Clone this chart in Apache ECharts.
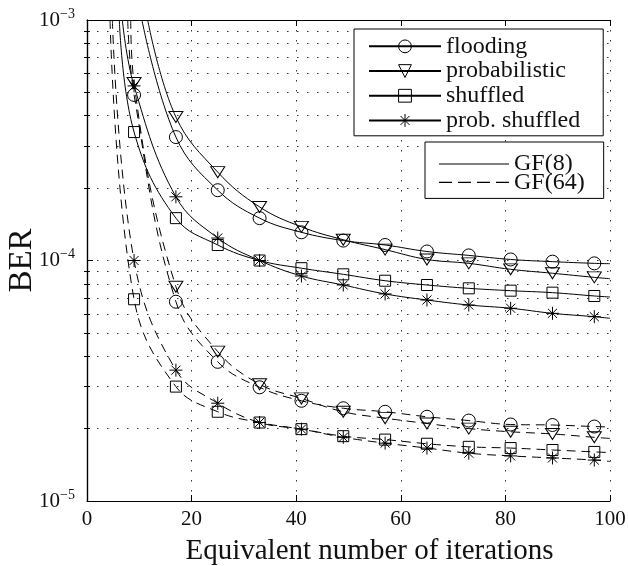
<!DOCTYPE html>
<html>
<head>
<meta charset="utf-8">
<script src="https://cdn.jsdelivr.net/npm/echarts@6/dist/echarts.min.js"></script>
<style>
html, body { margin: 0; padding: 0; background: #fff; }
#main { width: 628px; height: 566px; }
</style>
</head>
<body>
<div id="main"></div>
<script>
// iterations where the markers sit
var iters = [9, 17, 25, 33, 41, 49, 57, 65, 73, 81, 89, 97];

// GF(8), solid lines (null = above the plotted range)
var flood8 = [null, 3.26e-4, 1.96e-4, 1.50e-4, 1.31e-4, 1.21e-4, 1.16e-4, 1.09e-4, 1.05e-4, 1.01e-4, 9.89e-5, 9.73e-5];
var prob8 = [null, 3.95e-4, 2.33e-4, 1.67e-4, 1.38e-4, 1.22e-4, 1.11e-4, 1.01e-4, 9.73e-5, 9.19e-5, 8.85e-5, 8.51e-5];
var shuf8 = [3.42e-4, 1.50e-4, 1.16e-4, 1.00e-4, 9.29e-5, 8.76e-5, 8.24e-5, 7.91e-5, 7.66e-5, 7.49e-5, 7.35e-5, 7.12e-5];
var pshuf8 = [5.32e-4, 1.84e-4, 1.24e-4, 1.00e-4, 8.62e-5, 7.91e-5, 7.26e-5, 6.85e-5, 6.53e-5, 6.33e-5, 6.03e-5, 5.84e-5];

// GF(64), dashed lines
var flood64 = [4.88e-4, 6.74e-5, 3.79e-5, 2.97e-5, 2.61e-5, 2.43e-5, 2.35e-5, 2.24e-5, 2.16e-5, 2.08e-5, 2.07e-5, 2.04e-5];
var prob64 = [5.47e-4, 7.78e-5, 4.18e-5, 3.06e-5, 2.67e-5, 2.35e-5, 2.21e-5, 2.10e-5, 2.00e-5, 1.94e-5, 1.90e-5, 1.84e-5];
var shuf64 = [6.90e-5, 2.99e-5, 2.35e-5, 2.12e-5, 1.99e-5, 1.86e-5, 1.80e-5, 1.73e-5, 1.68e-5, 1.66e-5, 1.63e-5, 1.60e-5];
var pshuf64 = [1.00e-4, 3.50e-5, 2.55e-5, 2.12e-5, 1.99e-5, 1.84e-5, 1.74e-5, 1.66e-5, 1.58e-5, 1.54e-5, 1.51e-5, 1.48e-5];

// extra points (no marker): where they leave the top, and the right edge
var flood8Line = [[10.5, 1e-3], [100, 9.7e-5]];
var prob8Line = [[11.6, 1e-3], [100, 8.4e-5]];
var shuf8Line = [[6.18, 1e-3], [100, 7.05e-5]];
var pshuf8Line = [[6.75, 1e-3], [100, 5.75e-5]];
var flood64Line = [[7.78, 1e-3], [100, 2.03e-5]];
var prob64Line = [[8.36, 1e-3], [100, 1.82e-5]];
var shuf64Line = [[4.4, 1e-3], [100, 1.59e-5]];
var pshuf64Line = [[4.85, 1e-3], [100, 1.46e-5]];

var yMinor = [2e-5, 3e-5, 4e-5, 5e-5, 6e-5, 7e-5, 8e-5, 9e-5, 2e-4, 3e-4, 4e-4, 5e-4, 6e-4, 7e-4, 8e-4, 9e-4];

var font = 'Liberation Serif';
var dotted = { color: '#333', width: 1, type: [1.5, 8.5] };

var markers = {
    circle: { symbol: 'circle', size: 13 },
    tri: { symbol: 'path://M0,0L2,0L1,1.6Z', size: [14, 11] },
    square: { symbol: 'rect', size: 11 },
    star: { symbol: 'path://M1,0L1,2M0,1L2,1M0.3,0.3L1.7,1.7M0.3,1.7L1.7,0.3', size: 13 }
};

function curve(name, marks, extra, mk, dashed) {
    var data = [];
    extra.forEach(function (p) { data.push({ value: p, symbol: 'none' }); });
    iters.forEach(function (x, i) {
        if (marks[i] != null) data.push({ value: [x, marks[i]] });
    });
    data.sort(function (a, b) { return a.value[0] - b.value[0]; });
    return {
        type: 'line',
        name: name,
        data: data,
        smooth: 0.4,
        symbol: mk.symbol,
        symbolSize: mk.size,
        showSymbol: true,
        lineStyle: { color: '#000', width: 1, type: dashed ? [9, 6] : 'solid' },
        itemStyle: { color: 'rgba(0,0,0,0)', borderColor: '#000', borderWidth: 1 },
        emphasis: { disabled: true },
        z: 3
    };
}

function sup(v) {
    var e = Math.round(Math.log10(v));
    return '10{sup|' + (e < 0 ? '\u2212' : '') + Math.abs(e) + '}';
}

var series = [
    curve('flooding', flood8, flood8Line, markers.circle, false),
    curve('probabilistic', prob8, prob8Line, markers.tri, false),
    curve('shuffled', shuf8, shuf8Line, markers.square, false),
    curve('prob. shuffled', pshuf8, pshuf8Line, markers.star, false),
    curve('flooding GF64', flood64, flood64Line, markers.circle, true),
    curve('probabilistic GF64', prob64, prob64Line, markers.tri, true),
    curve('shuffled GF64', shuf64, shuf64Line, markers.square, true),
    curve('prob. shuffled GF64', pshuf64, pshuf64Line, markers.star, true),
    { type: 'line', name: 'GF(8)', data: [], itemStyle: { color: '#000' } },
    { type: 'line', name: 'GF(64)', data: [], itemStyle: { color: '#000' } }
];

var chart = echarts.init(document.getElementById('main'), null, { renderer: 'canvas' });
chart.setOption({
    backgroundColor: '#fff',
    animation: false,
    grid: { left: 87, right: 18, top: 20, bottom: 65, containLabel: false, outerBoundsMode: 'none' },
    legend: [{
        data: ['flooding', 'probabilistic', 'shuffled', 'prob. shuffled'],
        orient: 'vertical',
        left: 354,
        top: 29,
        itemWidth: 72,
        itemHeight: 16,
        itemGap: 0,
        padding: [5, 23, 3, 14],
        selectedMode: false,
        backgroundColor: '#fff',
        borderColor: '#000',
        borderWidth: 1,
        borderRadius: 0,
        itemStyle: { color: 'rgba(0,0,0,0)', borderColor: '#000', borderWidth: 1 },
        textStyle: { fontFamily: font, fontSize: 24, color: '#111', lineHeight: 24.7 }
    }, {
        data: [
            { name: 'GF(8)', icon: 'path://M0,0H70V1.2H0Z' },
            { name: 'GF(64)', icon: 'path://M0,0H13V1.2H0ZM19,0H32V1.2H19ZM38,0H51V1.2H38ZM57,0H70V1.2H57Z' }
        ],
        orient: 'vertical',
        left: 425,
        top: 142,
        itemWidth: 70,
        itemHeight: 10,
        itemGap: -5.6,
        padding: [10, 19, 4, 14],
        selectedMode: false,
        backgroundColor: '#fff',
        borderColor: '#000',
        borderWidth: 1,
        borderRadius: 0,
        itemStyle: { color: '#000', borderWidth: 0 },
        textStyle: { fontFamily: font, fontSize: 24, color: '#111' }
    }],
    xAxis: [{
        type: 'value',
        min: 0,
        max: 100,
        interval: 20,
        position: 'bottom',
        name: 'Equivalent number of iterations',
        nameLocation: 'middle',
        nameGap: 36,
        nameMoveOverlap: false,
        nameTextStyle: { fontFamily: font, fontSize: 29, color: '#111', padding: [0, 0, 0, 42] },
        axisLine: { lineStyle: { color: '#000', width: 1.2 } },
        axisTick: { inside: true, length: 6, lineStyle: { color: '#000' } },
        axisLabel: { margin: 8, fontFamily: font, fontSize: 21, color: '#111' },
        splitLine: { show: true, lineStyle: dotted }
    }, {
        type: 'value',
        min: 0,
        max: 100,
        interval: 20,
        position: 'top',
        axisLine: { lineStyle: { color: '#000', width: 1.2 } },
        axisTick: { inside: true, length: 6, lineStyle: { color: '#000' } },
        axisLabel: { show: false },
        splitLine: { show: false }
    }],
    yAxis: [{
        type: 'log',
        logBase: 10,
        min: 1e-5,
        max: 1e-3,
        position: 'left',
        name: 'BER',
        nameLocation: 'middle',
        nameGap: 48,
        nameMoveOverlap: false,
        nameTextStyle: { fontFamily: font, fontSize: 33, color: '#111' },
        axisLine: { lineStyle: { color: '#000', width: 1.2 } },
        axisTick: { inside: true, length: 6, lineStyle: { color: '#000' } },
        axisLabel: {
            margin: 12,
            fontFamily: font,
            fontSize: 21,
            color: '#111',
            lineHeight: 26,
            formatter: sup,
            rich: { sup: { fontFamily: font, fontSize: 14, lineHeight: 14, verticalAlign: 'top', color: '#111' } }
        },
        splitLine: { show: true, lineStyle: dotted }
    }, {
        type: 'log',
        logBase: 10,
        min: 1e-5,
        max: 1e-3,
        position: 'right',
        axisLine: { lineStyle: { color: '#000', width: 1.2 } },
        axisTick: { inside: true, length: 3, customValues: yMinor, lineStyle: { color: '#000' } },
        axisLabel: { show: false },
        splitLine: { show: true, lineStyle: dotted }
    }, {
        type: 'log',
        logBase: 10,
        min: 1e-5,
        max: 1e-3,
        position: 'left',
        axisLine: { show: false },
        axisTick: { inside: true, length: 3, customValues: yMinor, lineStyle: { color: '#000' } },
        axisLabel: { show: false },
        splitLine: { show: false }
    }],
    series: series
});
</script>
</body>
</html>
